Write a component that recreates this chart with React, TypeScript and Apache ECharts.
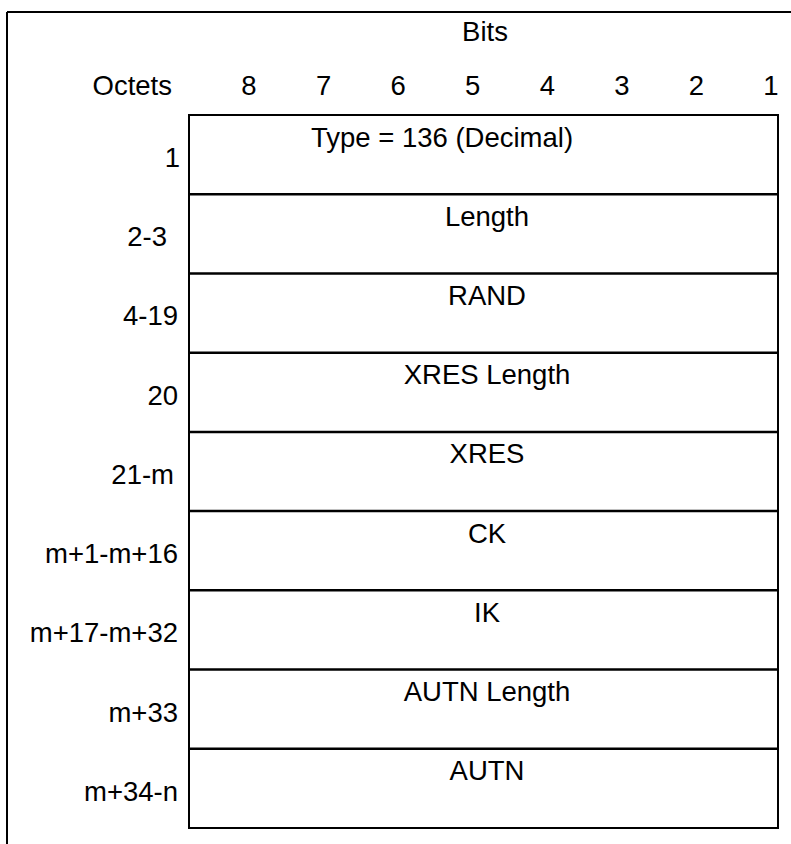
import React, { useEffect, useRef } from "react";
import * as echarts from "echarts";

const bitLabels = ["8", "7", "6", "5", "4", "3", "2", "1"];
const octetLabels = ["1", "2-3", "4-19", "20", "21-m", "m+1-m+16", "m+17-m+32", "m+33", "m+34-n"];
const fieldNames = ["Type = 136 (Decimal)", "Length", "RAND", "XRES Length", "XRES", "CK", "IK", "AUTN Length", "AUTN"];
const headerTitle = "Bits";
const octetsTitle = "Octets";

const FONT = "Arial, 'Liberation Sans', sans-serif";
const FS = 27.5;

export default function App() {
  const ref = useRef<HTMLDivElement>(null);
  useEffect(() => {
    if (!ref.current) return;
    const chart = echarts.init(ref.current, undefined, { renderer: "svg" });

    const boxLeft = 189;
    const boxRight = 778;
    const boxTop = 115;
    const boxBottom = 828;
    const rowH = (boxBottom - boxTop) / fieldNames.length;

    const textStyle = (extra: any) => ({
      fill: "#000",
      fontFamily: FONT,
      fontSize: FS,
      ...extra,
    });

    const elements: any[] = [];

    // outer frame (top and left edges)
    elements.push({
      type: "line",
      shape: { x1: 7, y1: 12, x2: 800, y2: 12 },
      style: { stroke: "#000", lineWidth: 2 },
    });
    elements.push({
      type: "line",
      shape: { x1: 7, y1: 12, x2: 7, y2: 850 },
      style: { stroke: "#000", lineWidth: 2 },
    });

    elements.push({
      type: "text",
      x: 485,
      y: 31,
      style: textStyle({ text: headerTitle, textAlign: "center", textVerticalAlign: "middle" }),
    });
    elements.push({
      type: "text",
      x: 172,
      y: 85.5,
      style: textStyle({ text: octetsTitle, textAlign: "right", textVerticalAlign: "middle" }),
    });

    const bitX0 = 249;
    const bitStep = (771 - 249) / (bitLabels.length - 1);
    bitLabels.forEach((b, i) => {
      elements.push({
        type: "text",
        x: bitX0 + i * bitStep,
        y: 85.5,
        style: textStyle({ text: b, textAlign: "center", textVerticalAlign: "middle" }),
      });
    });

    // box
    elements.push({
      type: "rect",
      shape: { x: boxLeft, y: boxTop, width: boxRight - boxLeft, height: boxBottom - boxTop },
      style: { fill: "none", stroke: "#000", lineWidth: 2 },
    });

    fieldNames.forEach((name, i) => {
      const top = boxTop + i * rowH;
      if (i > 0) {
        elements.push({
          type: "line",
          shape: { x1: boxLeft, y1: top, x2: boxRight, y2: top },
          style: { stroke: "#000", lineWidth: 2.5 },
        });
      }
      elements.push({
        type: "text",
        x: i === 0 ? 442 : 487,
        y: top + 22,
        style: textStyle({ text: name, textAlign: "center", textVerticalAlign: "middle" }),
      });
      const lab = octetLabels[i];
      const rightEdge = lab === "2-3" ? 167 : lab === "21-m" ? 174 : lab === "1" ? 180 : 178;
      elements.push({
        type: "text",
        x: rightEdge,
        y: top + 42.5,
        style: textStyle({ text: lab, textAlign: "right", textVerticalAlign: "middle" }),
      });
    });

    chart.setOption({
      animation: false,
      backgroundColor: "#fff",
      graphic: { elements },
    });

    return () => chart.dispose();
  }, []);

  return (
    <div
      ref={ref}
      style={{ position: "fixed", left: 0, top: 0, width: 791, height: 844, background: "#fff" }}
    />
  );
}
